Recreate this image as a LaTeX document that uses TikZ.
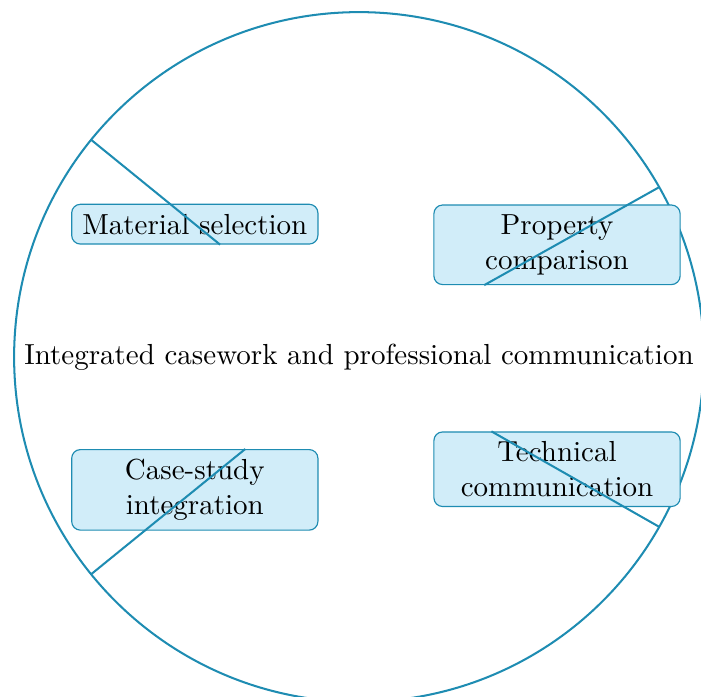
\documentclass[tikz,border=0pt]{standalone}
\usepackage{xcolor}
\definecolor{ringblue}{RGB}{30,140,178}
\definecolor{boxfill}{RGB}{209,237,249}
\tikzset{
  topicbox/.style={draw=ringblue, fill=boxfill, rounded corners=3pt, thin,
    text width=2.75cm, align=center},
  ring/.style={draw=ringblue, line width=0.7pt}
}
\begin{document}
\begin{tikzpicture}
\useasboundingbox (-4.351,-4.120) rectangle (4.145,4.327);
\draw[ring] (0,0) circle (4.18); %edit here for the ring
\node (core) at (0,0) {Integrated casework and professional communication};
% the four topics
\node[topicbox] (ms) at (-1.99,1.61) {Material selection};
\node[topicbox] (pc) at (2.40,1.36) {Property comparison};
\node[topicbox] (cs) at (-1.99,-1.61) {Case-study integration};
\node[topicbox] (tc) at (2.40,-1.36) {Technical communication};
% points on the ring
\coordinate (r1) at (140.96:4.18);
\coordinate (r2) at (29.5:4.18);
\coordinate (r3) at (-140.96:4.18);
\coordinate (r4) at (-29.5:4.18);
\draw[ring] (r1) -- (ms.-39.04);
\draw[ring] (r2) -- (pc.209.5);
\draw[ring] (r3) -- (cs.39.04);
\draw[ring] (r4) -- (tc.150.5);
\end{tikzpicture}
\end{document}
